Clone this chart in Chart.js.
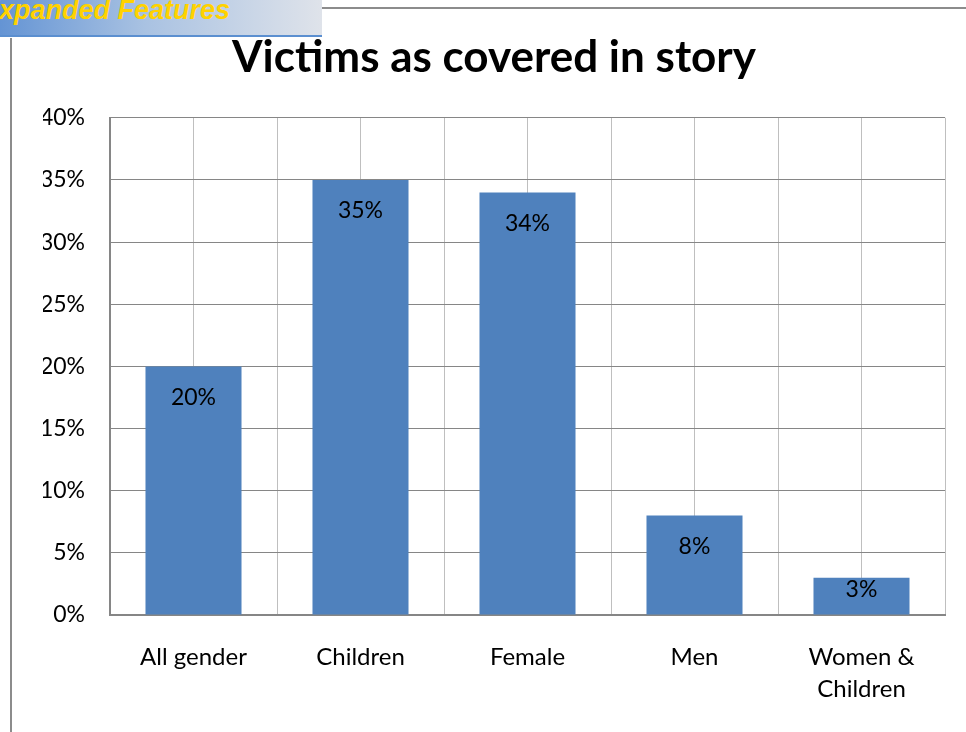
<!DOCTYPE html>
<html>
<head>
<meta charset="utf-8">
<script src="https://cdn.jsdelivr.net/npm/chart.js@4.4.1/dist/chart.umd.min.js"></script>
<style>
  html, body { margin: 0; padding: 0; background: #fff; }
  body { width: 966px; height: 732px; position: relative; overflow: hidden; }
  #banner {
    position: absolute; left: 0; top: 0; width: 322px; height: 35px;
    background: linear-gradient(to right, #6494d4 0%, #a9c2e2 45%, #dfe3ea 100%);
    border-bottom: 2px solid #5b8fd0;
    overflow: hidden;
  }
  #banner span {
    position: absolute; left: -19px; top: -5px; line-height: 27px;
    font: italic bold 27px "Liberation Sans", Arial, sans-serif;
    color: #ffd200; white-space: nowrap;
  }
  #topRule { position: absolute; left: 322px; top: 7px; width: 644px; height: 2px; background: #8c8c8c; }
  #sideRule { position: absolute; left: 10px; top: 38px; width: 2px; height: 694px; background: #8c8c8c; }
  #wrap { position: absolute; left: 0; top: 0; width: 966px; height: 732px; }
</style>
</head>
<body>
<div id="banner"><span>Expanded Features</span></div>
<div id="topRule"></div>
<div id="sideRule"></div>
<div id="wrap"><canvas id="victimsChart" width="966" height="732"></canvas></div>
<script>
const categories = ["All gender", "Children", "Female", "Men", ["Women &", "Children"]];
const shares = [20, 35, 34, 8, 3];
const yTicks = [0, 5, 10, 15, 20, 25, 30, 35, 40];

const FONT = "Lato, 'Open Sans', sans-serif";

// value labels just inside the top of each bar
const barLabels = {
  id: 'barLabels',
  afterDatasetsDraw(chart) {
    const ctx = chart.ctx;
    const meta = chart.getDatasetMeta(0);
    ctx.save();
    ctx.font = "23px " + FONT;
    ctx.fillStyle = '#000';
    ctx.textAlign = 'center';
    ctx.textBaseline = 'middle';
    meta.data.forEach((bar, i) => {
      const h = bar.base - bar.y;
      const y = bar.y + Math.min(31, h * 0.33);
      ctx.fillText(shares[i] + '%', bar.x, y);
    });
    ctx.restore();
  }
};

let ctx = document.getElementById('victimsChart').getContext('2d');

let victimsChart = new Chart(ctx, {
  type: 'bar',
  data: {
    labels: categories,
    datasets: [{
      data: shares,
      backgroundColor: '#4f81bd',
      barPercentage: 0.575,
      categoryPercentage: 1
    }]
  },
  options: {
    responsive: false,
    maintainAspectRatio: false,
    animation: false,
    layout: { padding: { left: 43, right: 21, top: 0, bottom: 0 } },
    plugins: {
      legend: { display: false },
      tooltip: { enabled: false },
      title: {
        display: true,
        text: 'Victims as covered in story',
        color: '#000',
        font: { family: FONT, size: 44, weight: 'bold', lineHeight: 1.2 },
        padding: { top: 31, bottom: 34 }
      }
    },
    scales: {
      x: {
        offset: true,
        grid: { offset: true, color: '#bfbfbf', lineWidth: 1, drawTicks: false },
        border: { color: '#868686', width: 2 },
        ticks: {
          color: '#000', font: { family: FONT, size: 24, lineHeight: 1.3 },
          padding: 27, autoSkip: false, maxRotation: 0
        },
        afterFit(scale) { scale.height = 117; }
      },
      xc: {
        position: 'bottom',
        offset: true,
        grid: { offset: false, color: '#bfbfbf', lineWidth: 1, drawTicks: false },
        border: { display: false },
        ticks: { display: false },
        afterFit(scale) { scale.height = 0; }
      },
      y: {
        min: 0, max: 40,
        afterBuildTicks(scale) { scale.ticks = yTicks.map(v => ({ value: v })); },
        grid: { color: '#868686', lineWidth: 1, drawTicks: false },
        border: { color: '#868686', width: 2 },
        ticks: {
          color: '#000', font: { family: FONT, size: 23 }, padding: 25,
          callback: v => v + '%'
        },
        afterFit(scale) { scale.width = 67; }
      }
    }
  },
  plugins: [barLabels]
});
</script>
</body>
</html>
